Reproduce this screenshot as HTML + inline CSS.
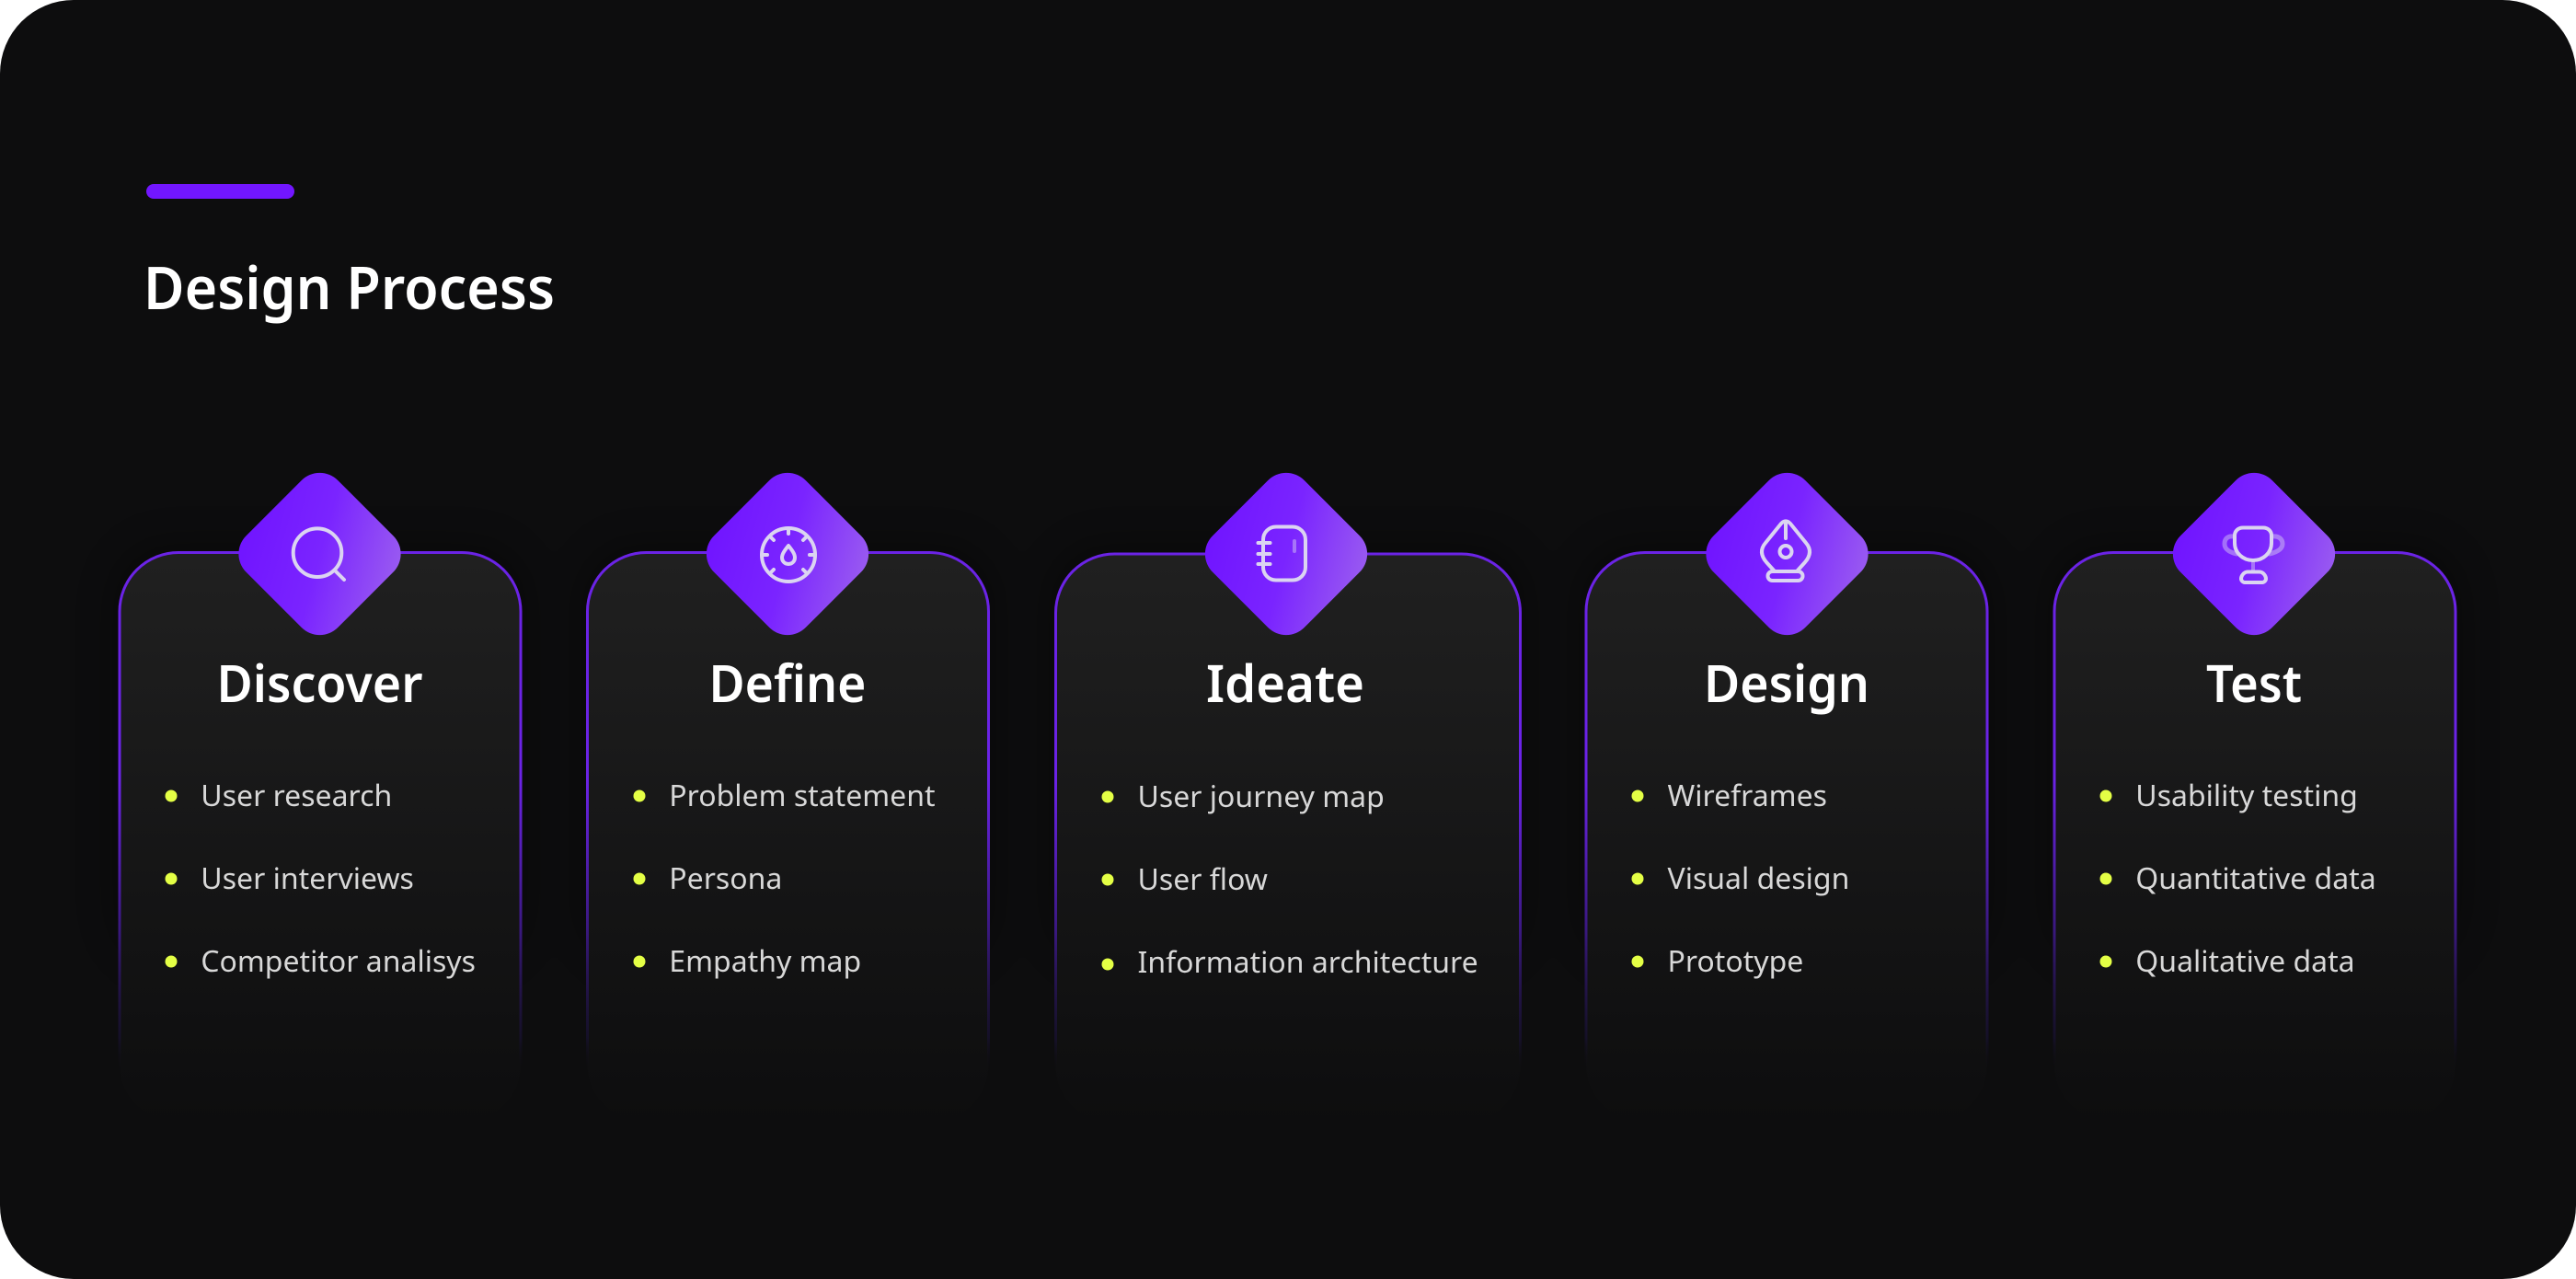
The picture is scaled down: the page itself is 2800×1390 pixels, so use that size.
<!DOCTYPE html>
<html>
<head>
<meta charset="utf-8">
<style>
html,body{margin:0;padding:0;background:#fff;width:2800px;height:1390px;overflow:hidden}
svg{display:block}
text{font-family:"Noto Sans","Noto Sans CJK SC","Liberation Sans",sans-serif}
.t{font-size:64px;font-weight:600;fill:#fff}
.h{font-size:56px;font-weight:600;fill:#fff;text-anchor:middle}
.l{font-size:32px;font-weight:400;fill:#d8d8d8}
.i{fill:none;stroke:#dbd4f1;stroke-width:4;stroke-linecap:round;stroke-linejoin:round}
.f{stroke-opacity:.45}
.g{stroke-width:5}
</style>
</head>
<body>
<svg width="2800" height="1390" viewBox="0 0 2800 1390" xmlns="http://www.w3.org/2000/svg">
<defs>
<linearGradient id="cf" x1="0" y1="0" x2="0" y2="1">
<stop offset="0" stop-color="#202020"/><stop offset="1" stop-color="#0d0d0e"/>
</linearGradient>
<linearGradient id="cs" x1="0" y1="0" x2="0" y2="1">
<stop offset="0" stop-color="#6b23e6"/><stop offset=".40" stop-color="#6b23e6"/><stop offset=".66" stop-color="#3a1880"/><stop offset=".85" stop-color="#1c1240" stop-opacity=".5"/><stop offset=".91" stop-color="#0d0d0e" stop-opacity="0"/>
</linearGradient>
<linearGradient id="dg" gradientUnits="userSpaceOnUse" gradientTransform="rotate(-45)" x1="-88" y1="-24" x2="88" y2="24">
<stop offset="0" stop-color="#7014ff"/><stop offset=".5" stop-color="#7a24ff"/><stop offset="1" stop-color="#9a5cf0"/>
</linearGradient>
<filter id="b" x="-20%" y="-20%" width="140%" height="140%"><feGaussianBlur stdDeviation="20"/></filter>
<g id="dia"><rect x="-70.500" y="-70.500" width="141" height="141" rx="28" fill="url(#dg)" transform="rotate(45)"/></g>
</defs>

<rect x="0" y="0" width="2800" height="1390" rx="80" fill="#0d0d0e"/>
<rect x="159" y="200" width="161" height="16" rx="8" fill="#7216ff"/>
<text class="t" x="156" y="336" textLength="447" lengthAdjust="spacingAndGlyphs">Design Process</text>

<!-- shadows -->
<g fill="#000" opacity=".3" filter="url(#b)">
<rect x="122" y="590" width="452" height="460" rx="64"/>
<rect x="631" y="590" width="452" height="460" rx="64"/>
<rect x="1140" y="590" width="520" height="460" rx="64"/>
<rect x="1716" y="590" width="452" height="460" rx="64"/>
<rect x="2225" y="590" width="452" height="460" rx="64"/>
</g>

<!-- cards -->
<g fill="url(#cf)" stroke="url(#cs)" stroke-width="3">
<rect x="130" y="600.500" width="436" height="620" rx="64"/>
<rect x="638.500" y="600.500" width="436" height="620" rx="64"/>
<rect x="1147.500" y="602" width="505" height="620" rx="64"/>
<rect x="1724" y="600.500" width="436" height="620" rx="64"/>
<rect x="2233" y="600.500" width="436" height="620" rx="64"/>
</g>

<!-- diamonds -->
<use href="#dia" transform="translate(347.500,602)"/>
<use href="#dia" transform="translate(856,602)"/>
<use href="#dia" transform="translate(1398,602)"/>
<use href="#dia" transform="translate(1942.500,602)"/>
<use href="#dia" transform="translate(2450,602)"/>

<!-- icon search -->
<g class="i"><circle cx="345" cy="600.700" r="26.300"/><path d="M364 620L374 630"/></g>

<!-- icon gauge -->
<g class="i">
<circle cx="857" cy="603" r="29"/>
<path d="M857 575V580M829 603H834M880 603H885M837.500 583.500L841 587M873 619L876.500 622.500M876.500 583.500L873 587M841 619L837.500 622.500"/>
<path d="M857 593C853 598 850 602 850 606C850 610 853 613 857 613C861 613 864 610 864 606C864 602 861 598 857 593Z"/>
</g>

<!-- icon notebook -->
<g class="i">
<rect x="1373" y="572.500" width="46" height="58" rx="14"/>
<path d="M1367.500 590H1380.500M1367.500 602H1380.500M1367.500 613H1380.500"/>
<path class="f" d="M1407 588V599"/>
</g>

<!-- icon pen -->
<g class="i">
<path d="M1936 569C1939 565.500 1943 565.500 1946 569L1963 590C1969 597 1968 604 1962 611L1953 621H1929L1920 611C1914 604 1913 597 1919 590Z"/>
<path d="M1941 568V585"/>
<circle cx="1941" cy="599.500" r="6.500"/>
<rect x="1921.500" y="621" width="38" height="10" rx="5"/>
</g>

<!-- icon trophy -->
<g class="i">
<path class="f g" d="M2428 583C2421 582 2418 586 2418 591C2418 597 2423 600 2431 602"/>
<path class="f g" d="M2470 583C2477 582 2481 586 2481 591C2481 597 2475 600 2467 602"/>
<path d="M2438 573.500H2460C2465 573.500 2469 577 2469 582V590C2469 601 2460 609 2449 609C2438 609 2429 601 2429 590V582C2429 577 2433 573.500 2438 573.500Z"/>
<path class="f" d="M2449 611V621"/>
<path d="M2443 621.500H2456C2460 621.500 2463 626 2463 629C2463 631 2461 633 2459 633H2440C2438 633 2436 631 2436 629C2436 626 2439 621.500 2443 621.500Z"/>
</g>

<!-- headings -->
<text class="h" x="347.500" y="763" textLength="224" lengthAdjust="spacingAndGlyphs">Discover</text>
<text class="h" x="856" y="763" textLength="171" lengthAdjust="spacingAndGlyphs">Define</text>
<text class="h" x="1397" y="763" textLength="172" lengthAdjust="spacingAndGlyphs">Ideate</text>
<text class="h" x="1942" y="763" textLength="180" lengthAdjust="spacingAndGlyphs">Design</text>
<text class="h" x="2450" y="763" textLength="104" lengthAdjust="spacingAndGlyphs">Test</text>

<!-- bullets -->
<g fill="#e4ff45">
<circle cx="186" cy="865" r="6.500"/><circle cx="186" cy="955" r="6.500"/><circle cx="186" cy="1045" r="6.500"/>
<circle cx="695" cy="865" r="6.500"/><circle cx="695" cy="955" r="6.500"/><circle cx="695" cy="1045" r="6.500"/>
<circle cx="1204" cy="866" r="6.500"/><circle cx="1204" cy="956" r="6.500"/><circle cx="1204" cy="1048" r="6.500"/>
<circle cx="1780" cy="865" r="6.500"/><circle cx="1780" cy="955" r="6.500"/><circle cx="1780" cy="1045" r="6.500"/>
<circle cx="2289" cy="865" r="6.500"/><circle cx="2289" cy="955" r="6.500"/><circle cx="2289" cy="1045" r="6.500"/>
</g>

<!-- list text -->
<text class="l" x="218.300" y="876">User research</text>
<text class="l" x="218.300" y="966">User interviews</text>
<text class="l" x="218.300" y="1056">Competitor analisys</text>
<text class="l" x="727.300" y="876">Problem statement</text>
<text class="l" x="727.300" y="966">Persona</text>
<text class="l" x="727.300" y="1056">Empathy map</text>
<text class="l" x="1236.500" y="877">User journey map</text>
<text class="l" x="1236.500" y="967">User flow</text>
<text class="l" x="1236.500" y="1057">Information architecture</text>
<text class="l" x="1812.500" y="876">Wireframes</text>
<text class="l" x="1812.500" y="966">Visual design</text>
<text class="l" x="1812.500" y="1056">Prototype</text>
<text class="l" x="2321.300" y="876">Usability testing</text>
<text class="l" x="2321.300" y="966">Quantitative data</text>
<text class="l" x="2321.300" y="1056">Qualitative data</text>
</svg>
</body>
</html>
